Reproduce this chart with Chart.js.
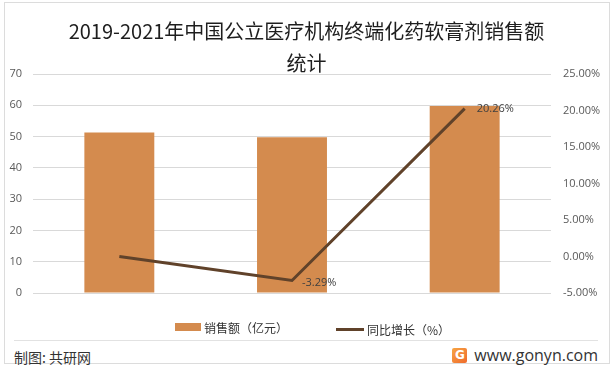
<!DOCTYPE html>
<html>
<head>
<meta charset="utf-8">
<script src="https://cdn.jsdelivr.net/npm/chart.js@4.4.1/dist/chart.umd.min.js"></script>
<style>
  body { margin: 0; background: #fff; font-family: "Noto Sans CJK SC", "Noto Sans", sans-serif; }
  #wrap { position: relative; width: 613px; height: 369px; overflow: hidden; }
  #frame { position: absolute; left: 4px; top: 2px; width: 606px; height: 362px; border: 1px solid #dcdcdc; box-sizing: border-box; }
  #title { position: absolute; left: 0; top: 15px; width: 613px; text-align: center; font-size: 20px; line-height: 32px; color: #1e1e1e; }
  #chart { position: absolute; left: 0; top: 0; }
  #legend { position: absolute; top: 317px; left: 6px; width: 613px; text-align: center; font-size: 12px; color: #333; }
  #legend span.item { display: inline-flex; align-items: center; margin: 0 24px; }
  #legend i { display: inline-block; margin-right: 3px; }
  #rule { position: absolute; left: 14px; top: 340px; width: 584px; height: 1px; background: #e2e2e2; }
  #src { position: absolute; left: 14px; top: 347px; font-size: 14px; color: #333; }
  #site { position: absolute; right: 15px; top: 344px; font-size: 16px; color: #333; font-family: "Open Sans", "Noto Sans", sans-serif; display: flex; align-items: center; }
  #logo { display: inline-block; width: 15px; height: 15px; margin-right: 7px; border-radius: 2px; background: linear-gradient(135deg, #f7a544, #ef6a2c); color: #fff; font: bold 12px/15px "DejaVu Sans", sans-serif; text-align: center; }
</style>
</head>
<body>
<div id="wrap">
  <div id="frame"></div>
  <canvas id="chart" width="613" height="340"></canvas>
  <div id="title">2019-2021年中国公立医疗机构终端化药软膏剂销售额<br>统计</div>
  <div id="legend"></div>
  <div id="rule"></div>
  <div id="src">制图: 共研网</div>
  <div id="site"><span id="logo">G</span>www.gonyn.com</div>
</div>
<script>
const years = ['2019', '2020', '2021'];
const sales = [51.3, 49.8, 59.8];
const growth = [0, -3.29, 20.26];
const growthLabels = ['', '-3.29%', '20.26%'];
const salesName = '销售额（亿元）';
const growthName = '同比增长（%）';

const barColor = '#d48b4e';
const lineColor = '#60422a';

// point labels next to the growth line
const pointLabels = {
    id: 'pointLabels',
    afterDatasetsDraw(chart) {
        const ctx = chart.ctx;
        const meta = chart.getDatasetMeta(0);
        ctx.save();
        ctx.font = '11px "Open Sans", "Noto Sans", sans-serif';
        ctx.fillStyle = '#404040';
        ctx.textBaseline = 'middle';
        ctx.textAlign = 'left';
        meta.data.forEach((pt, i) => {
            if (!growthLabels[i]) return;
            const dx = growth[i] < 0 ? 10 : 12;
            const dy = growth[i] < 0 ? 2 : 0;
            ctx.fillText(growthLabels[i], pt.x + dx, pt.y + dy);
        });
        ctx.restore();
    }
};

const ctx = document.getElementById('chart').getContext('2d');
new Chart(ctx, {
    type: 'bar',
    data: {
        labels: years,
        datasets: [
            {
                type: 'line',
                label: growthName,
                data: growth,
                yAxisID: 'y1',
                borderColor: lineColor,
                borderWidth: 3,
                pointRadius: 0,
                tension: 0,
                order: 0
            },
            {
                label: salesName,
                data: sales,
                yAxisID: 'y',
                backgroundColor: barColor,
                categoryPercentage: 1,
                barPercentage: 0.405,
                order: 1
            }
        ]
    },
    options: {
        responsive: false,
        animation: false,
        layout: { padding: { top: 74, bottom: 27, left: 0, right: 0 } },
        plugins: {
            legend: { display: false },
            title: { display: false },
            tooltip: { enabled: false }
        },
        scales: {
            x: {
                grid: { display: false },
                border: { display: false },
                ticks: { color: '#333', padding: 10, font: { size: 11, family: '"Open Sans", "Noto Sans", sans-serif' } },
                afterFit(s) { s.height = 20; }
            },
            y: {
                position: 'left',
                min: 0,
                max: 70,
                ticks: { stepSize: 10, color: '#595959', padding: 11, font: { size: 11, family: '"Open Sans", "Noto Sans", sans-serif' } },
                grid: { color: '#d9d9d9', drawTicks: false },
                border: { display: false },
                afterFit(s) { s.width = 33; }
            },
            y1: {
                position: 'right',
                min: -5,
                max: 25,
                ticks: {
                    stepSize: 5,
                    color: '#595959',
                    padding: 12,
                    font: { size: 11, family: '"Open Sans", "Noto Sans", sans-serif' },
                    callback: v => v.toFixed(2) + '%'
                },
                grid: { display: false, drawTicks: false },
                border: { display: false },
                afterFit(s) { s.width = 62; }
            }
        }
    },
    plugins: [pointLabels]
});

// legend
document.getElementById('legend').innerHTML =
    '<span class="item"><i style="width:26px;height:8px;background:' + barColor + '"></i>' + salesName + '</span>' +
    '<span class="item"><i style="width:28px;height:3px;background:' + lineColor + '"></i>' + growthName + '</span>';
</script>
</body>
</html>
